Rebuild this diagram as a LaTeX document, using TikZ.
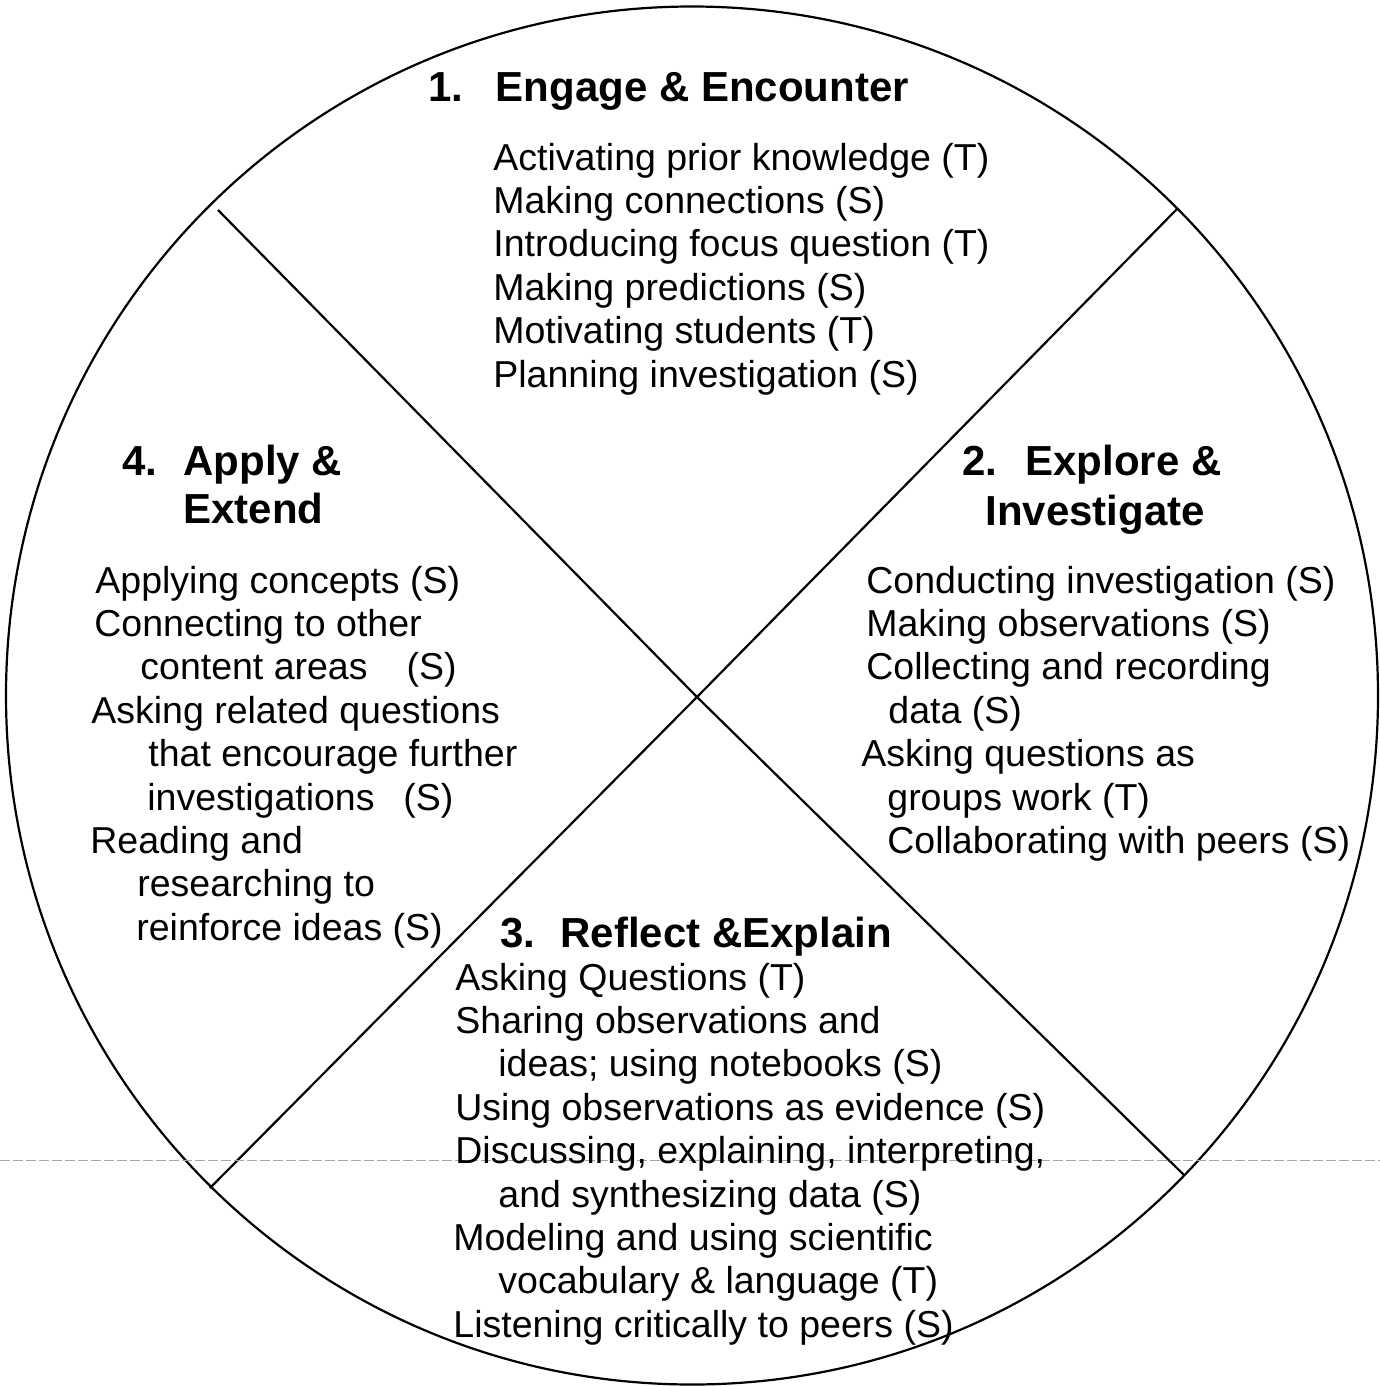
\documentclass[tikz,border=0pt]{standalone}
\usepackage{fontspec}
\setmainfont{Liberation Sans}
\usetikzlibrary{calc}

\begin{document}
\begin{tikzpicture}[x=0.5pt,y=-0.5pt,
    body/.style={anchor=base west,inner sep=0pt,font=\fontsize{18.75}{21.7}\selectfont},
    head/.style={anchor=base west,inner sep=0pt,font=\fontsize{21}{24}\selectfont\bfseries},
    rim/.style={line width=1.1pt}]
    \useasboundingbox (0,0) rectangle (1380,1387);

    % the cycle
    \coordinate (c) at (692,695.5);
    \draw[rim] (c) ellipse [x radius=686, y radius=689];
    \coordinate (mid) at (697,697);
    \coordinate (ul) at (218,210);
    \coordinate (lr) at (1184,1175);
    \coordinate (ur) at (1178,208);
    \coordinate (ll) at (210,1188);
    \draw[rim] (ul) -- (mid) -- (lr);
    \draw[rim] (ur) -- (mid) -- (ll);

    % fold of the scanned page
    \coordinate (fold-l) at (0,1160);
    \coordinate (fold-r) at (1380,1160);
    \draw[gray!70,line width=0.4pt,dash pattern=on 5pt off 1.5pt] (fold-l) -- (fold-r);

    % 1. engage
    \node[head] (eng) at (428,101) {1.\hspace{0.77em}Engage \& Encounter};
    \foreach \t [count=\i] in {Activating prior knowledge (T),Making connections (S),
        Introducing focus question (T),Making predictions (S),Motivating students (T),
        Planning investigation (S)}
      \node[body] (eng-\i) at (493,{170+43.4*(\i-1)}) {\t};

    % 2. explore
    \node[head] (exp) at (962,475) {2.\hspace{0.67em}Explore \&};
    \node[head] (exp-b) at (985,525) {Investigate};
    \foreach \x/\t [count=\i] in {866/Conducting investigation (S),866/Making observations (S),
        866/Collecting and recording,888/data (S),861/Asking questions as,
        887/groups work (T),887/Collaborating with peers (S)}
      \node[body] (exp-\i) at (\x,{593+43.4*(\i-1)}) {\t};

    % 3. reflect
    \node[head] (ref) at (500,947) {3.\hspace{0.6em}Reflect \&Explain};
    \foreach \x/\t [count=\i] in {455/Asking Questions (T),455/Sharing observations and,
        498/ideas; using notebooks (S),455/Using observations as evidence (S),
        455/{Discussing, explaining, interpreting,},498/and synthesizing data (S),
        453/Modeling and using scientific,498/vocabulary \& language (T),
        453/Listening critically to peers (S)}
      \node[body] (ref-\i) at (\x,{990+43.4*(\i-1)}) {\t};

    % 4. apply
    \node[head] (app) at (122,475) {4.\hspace{0.62em}Apply \&};
    \node[head] (app-b) at (183,523) {Extend};
    \foreach \x/\t [count=\i] in {95/Applying concepts (S),94/Connecting to other,
        140/content areas\hspace{1.04em}(S),91/Asking related questions,
        148/that encourage further,147/investigations\hspace{0.77em}(S),
        90/Reading and,137/researching to,136/reinforce ideas (S)}
      \node[body] (app-\i) at (\x,{593+43.4*(\i-1)}) {\t};
\end{tikzpicture}
\end{document}
